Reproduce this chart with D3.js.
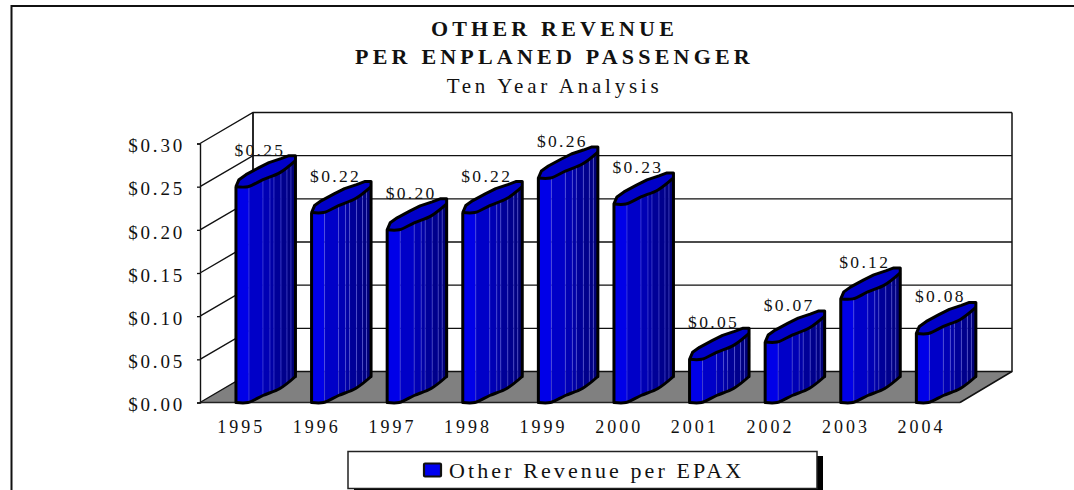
<!DOCTYPE html>
<html><head><meta charset="utf-8">
<script src="https://cdn.jsdelivr.net/npm/d3@7/dist/d3.min.js"></script>
<style>html,body{margin:0;padding:0;background:#fff}svg{display:block}text{font-family:"Liberation Serif",serif;fill:#111}</style>
</head><body><svg id="c" width="1074" height="490"></svg>
<script>
const years = ["1995","1996","1997","1998","1999","2000","2001","2002","2003","2004"];
const values = [0.25,0.22,0.20,0.22,0.26,0.23,0.05,0.07,0.12,0.08];
const yTicks = [0,0.05,0.10,0.15,0.20,0.25,0.30];
const titleLines = ["OTHER REVENUE","PER ENPLANED PASSENGER","Ten Year Analysis"];
const legendLabel = "Other Revenue per EPAX";

const svg = d3.select("#c");
const x0=200,x1=960,y0=402.5,yTop=143.5,dx=53,dy=-31;
const y = d3.scaleLinear().domain([0,0.3]).range([y0,yTop]);
const x = d3.scaleBand().domain(years).range([228.4,984.4]).paddingInner(0.2).paddingOuter(0.1);
const fmt = d3.format("$.2f");

// outer frame
svg.append("path").attr("d","M11.5,490V6H1074").attr("fill","none").attr("stroke","#111").attr("stroke-width",2);

// titles
[[36,"bold",22,4.2,0],[64,"bold",22,4.2,1],[93,"normal",21,3.75,2]].forEach(([by,w,s,ls,i])=>{
  svg.append("text").attr("x",554.5).attr("y",by).attr("text-anchor","middle")
    .attr("font-weight",w).attr("font-size",s).attr("letter-spacing",ls).text(titleLines[i]);
});

// floor
svg.append("path").attr("d",d3.line()([[x0,y0],[x0+dx,y0+dy],[x1+dx-1,y0+dy],[x1,y0]])+"Z").attr("fill","#808080");

// back wall + grid
svg.selectAll(".g").data(yTicks).join("path").attr("class","g").attr("fill","none")
  .attr("stroke","#111").attr("stroke-width",1.4)
  .attr("d",d=>d3.line()([[x0,y(d)],[x0+dx,y(d)+dy],[x1+dx-1,y(d)+dy]]));
svg.append("path").attr("d",`M${x0+dx},${y(0.3)+dy}V${y0+dy}`).attr("stroke","#111").attr("stroke-width",1.8);
svg.append("path").attr("d",`M${x1+dx-1},${y(0.3)+dy}V${y0+dy}L${x1},${y0}`).attr("fill","none").attr("stroke","#111").attr("stroke-width",1.5);
svg.append("path").attr("d",`M${x0},${y0}H${x1}`).attr("stroke","#222").attr("stroke-width",1.3);

// y axis
const ya = svg.append("g").attr("transform",`translate(${x0},0)`)
  .call(d3.axisLeft(y).tickValues(yTicks).tickFormat(fmt).tickSize(3).tickPadding(12));
ya.select(".domain").attr("stroke","#111").attr("stroke-width",1.4);
ya.selectAll("line").attr("stroke","#111").attr("stroke-width",1.3);
ya.selectAll("text").attr("font-size",19).attr("letter-spacing",2.8).attr("dy","0.43em").style("font-family",'"Liberation Serif",serif');

// x axis
const xa = svg.append("g").attr("transform",`translate(0,${y0})`)
  .call(d3.axisBottom(x).tickSize(0).tickPadding(16));
xa.select(".domain").remove();
xa.selectAll("text").attr("font-size",18).attr("letter-spacing",3).attr("y",30).attr("dy",0).attr("transform","translate(-25,0)").style("font-family",'"Liberation Serif",serif');

// data labels
svg.selectAll(".dl").data(values).join("text").attr("class","dl")
  .attr("x",(d,i)=>x(years[i])+24).attr("y",d=>y(d)-31)
  .attr("text-anchor","middle").attr("font-size",17.5).attr("letter-spacing",2.3).text(fmt);

// bar shape profile (fractions of the bar footprint)
const W=59.5;
const frontX=[0,12,27,44,59.5].map(v=>v/W), frontY=[0,0,-7,-14,-26];
const backX=[0,3,10,23,33,45,53,59.5].map(v=>v/W), backY=[0,-7,-12,-19,-24,-28,-31,-31];
const frontCurve=d3.scaleLinear().domain(frontX).range(frontY);
const facetEdges=[0,13,27,34,38,45,51,55,59.5].map(v=>v/W);
const facetColors=["#0000e8","#0000c8","#0000b4","#0000a6","#000098","#00008c","#000082","#000078"];
const edgeColor="#5a5ae0";

const bars=svg.selectAll(".bar").data(values).join("g").attr("class","bar")
  .attr("transform",(d,i)=>`translate(${x(years[i])},0)`);
const bw=W;
const line=d3.line();
const smooth=d3.line().curve(d3.curveCatmullRom);
bars.each(function(d){
  const g=d3.select(this), top=y(d), bot=y0;
  facetColors.forEach((c,k)=>{
    const a=facetEdges[k],b=facetEdges[k+1];
    g.append("path").attr("fill",c).attr("d",line([[a*bw,top+frontCurve(a)],[b*bw,top+frontCurve(b)],[b*bw,bot+frontCurve(b)],[a*bw,bot+frontCurve(a)]])+"Z");
    if(k>0) g.append("path").attr("stroke",edgeColor).attr("stroke-width",0.8).attr("opacity",0.7)
      .attr("d",`M${a*bw},${top+frontCurve(a)}V${bot+frontCurve(a)}`);
  });
  const frontPts=frontX.map((f,i)=>[f*bw,top+frontY[i]]);
  const backPts=backX.map((f,i)=>[f*bw,top+backY[i]]);
  g.append("path").attr("fill","#0000c8").attr("d",line(backPts)+"L"+frontPts.slice().reverse().map(p=>p.join(",")).join("L")+"Z");
  g.append("path").attr("fill","none").attr("stroke","#000").attr("stroke-width",3).attr("stroke-linejoin","round").attr("stroke-linecap","round")
    .attr("d",`M0,${bot}V${top}`+line(backPts).replace(/^M/,"L")+`V${bot+frontY[4]}`);
  g.append("path").attr("fill","none").attr("stroke","#000").attr("stroke-width",3).attr("stroke-linejoin","round")
    .attr("d",smooth(frontPts));
  g.append("path").attr("fill","none").attr("stroke","#000").attr("stroke-width",3).attr("stroke-linejoin","round")
    .attr("d",smooth(frontX.map((f,i)=>[f*bw,bot+frontY[i]])));
});

// legend
svg.append("rect").attr("x",354).attr("y",456).attr("width",469).attr("height",34).attr("fill","#000");
svg.append("rect").attr("x",348).attr("y",451.5).attr("width",469).attr("height",37).attr("fill","#fff").attr("stroke","#222").attr("stroke-width",1.5);
svg.append("rect").attr("x",424).attr("y",463.5).attr("width",17).attr("height",13).attr("rx",1).attr("fill","#0000f0").attr("stroke","#111").attr("stroke-width",2.2);
svg.append("text").attr("x",449).attr("y",478).attr("font-size",22).attr("letter-spacing",3.1).text(legendLabel);
</script></body></html>
